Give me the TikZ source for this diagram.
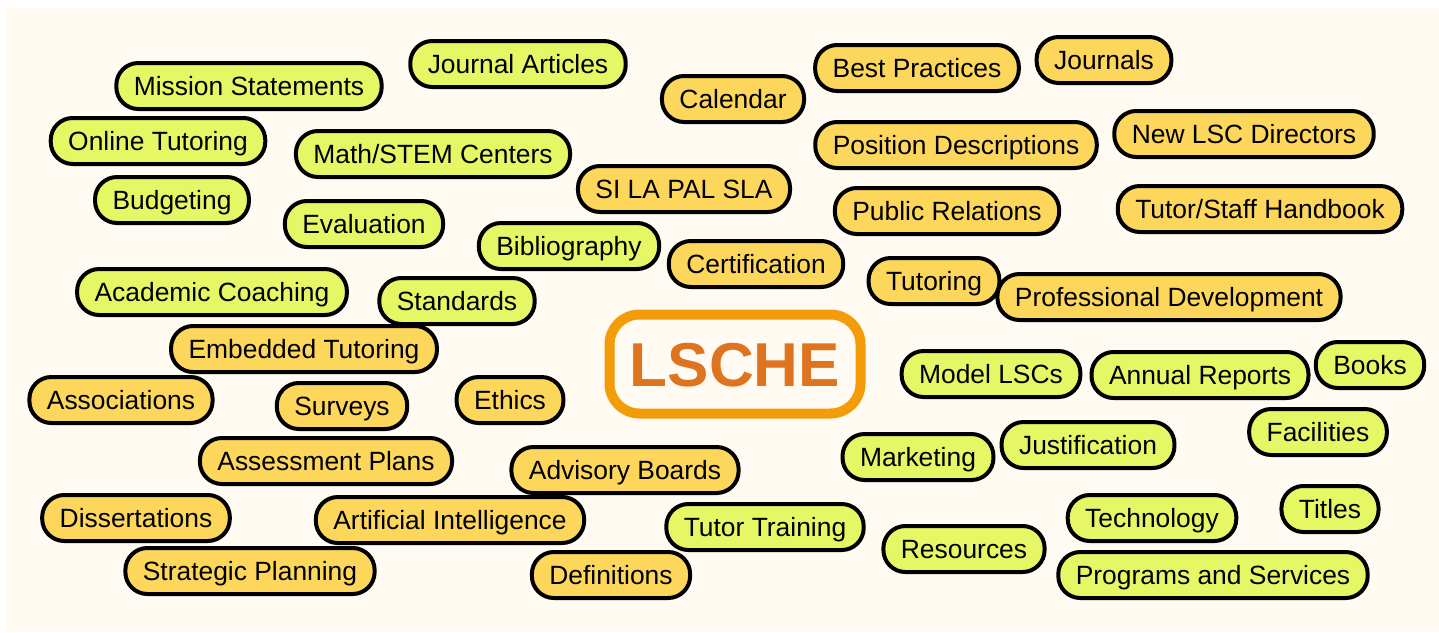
\documentclass[tikz,border=0pt]{standalone}
\usepackage{fontspec}
\setmainfont{Liberation Sans}
\definecolor{bgcream}{HTML}{FFFBF3}
\definecolor{pillgreen}{HTML}{E6F766}
\definecolor{pillyellow}{HTML}{FDD75B}
\definecolor{hubline}{HTML}{F49B0A}
\definecolor{hubtext}{HTML}{DF7420}
\tikzset{
    pill/.style={draw=black, line width=2pt, rounded corners=11pt, minimum height=23pt,
        inner xsep=8.75pt, text height=10.8pt, text depth=1.5pt,
        font=\fontsize{13.2pt}{15pt}\selectfont},
    gpill/.style={pill, fill=pillgreen},
    ypill/.style={pill, fill=pillyellow},
    hub/.style={draw=hubline, line width=5pt, rounded corners=15pt, minimum width=125.5pt,
        minimum height=49.5pt, text height=22.5pt, text depth=0pt, text=hubtext,
        font=\fontsize{31pt}{36pt}\selectfont\bfseries}
}
\begin{document}
\begin{tikzpicture}[x=0.5pt, y=-0.5pt]
    \fill[white] (0,0) rectangle (1439,632);
    \fill[bgcream] (5,8) rectangle (1439,632);
    \useasboundingbox (0,0) rectangle (1439,632);

    \node[hub] (lsche) at (735,364) {LSCHE};

    \node[gpill] (mission) at (249,86) {Mission Statements};
    \node[gpill] (jarticles) at (518,64) {Journal Articles};
    \node[gpill] (online) at (158,141) {Online Tutoring};
    \node[gpill] (mathstem) at (433,154) {Math/STEM Centers};
    \node[gpill] (budget) at (172,200) {Budgeting};
    \node[gpill] (evaluation) at (364,224) {Evaluation};
    \node[gpill] (coaching) at (212,292) {Academic Coaching};
    \node[gpill] (standards) at (457,301) {Standards};
    \node[gpill] (biblio) at (569,246) {Bibliography};

    \node[ypill] (calendar) at (733,99) {Calendar};
    \node[ypill] (sila) at (684,189) {SI LA PAL SLA};
    \node[ypill] (cert) at (756,264) {Certification};
    \node[ypill] (bestprac) at (917,68) {Best Practices};
    \node[ypill] (journals) at (1104,60) {Journals};
    \node[ypill] (posdesc) at (956,145) {Position Descriptions};
    \node[ypill] (newdir) at (1244,134) {New LSC Directors};
    \node[ypill] (pubrel) at (947,211) {Public Relations};
    \node[ypill] (handbook) at (1260,209) {Tutor/Staff Handbook};
    \node[ypill] (tutoring) at (934,281) {Tutoring};
    \node[ypill] (profdev) at (1169,297) {Professional Development};

    \node[ypill] (embedded) at (304,349) {Embedded Tutoring};
    \node[ypill] (assoc) at (121,400) {Associations};
    \node[ypill] (surveys) at (342,406) {Surveys};
    \node[ypill] (ethics) at (510,400) {Ethics};
    \node[ypill] (assess) at (326,461) {Assessment Plans};
    \node[ypill] (advisory) at (625,470) {Advisory Boards};
    \node[ypill] (disser) at (136,518) {Dissertations};
    \node[ypill] (ai) at (450,520) {Artificial Intelligence};
    \node[ypill] (strategic) at (250,571) {Strategic Planning};
    \node[ypill] (defs) at (611,575) {Definitions};

    \node[gpill] (training) at (765,527) {Tutor Training};
    \node[gpill] (marketing) at (918,457) {Marketing};
    \node[gpill] (models) at (991,374) {Model LSCs};
    \node[gpill] (annual) at (1200,375) {Annual Reports};
    \node[gpill] (books) at (1370,365) {Books};
    \node[gpill] (justif) at (1088,445) {Justification};
    \node[gpill] (facilities) at (1318,432) {Facilities};
    \node[gpill] (resources) at (964,549) {Resources};
    \node[gpill] (tech) at (1152,518) {Technology};
    \node[gpill] (titles) at (1330,509) {Titles};
    \node[gpill] (programs) at (1213,575) {Programs and Services};
\end{tikzpicture}
\end{document}
